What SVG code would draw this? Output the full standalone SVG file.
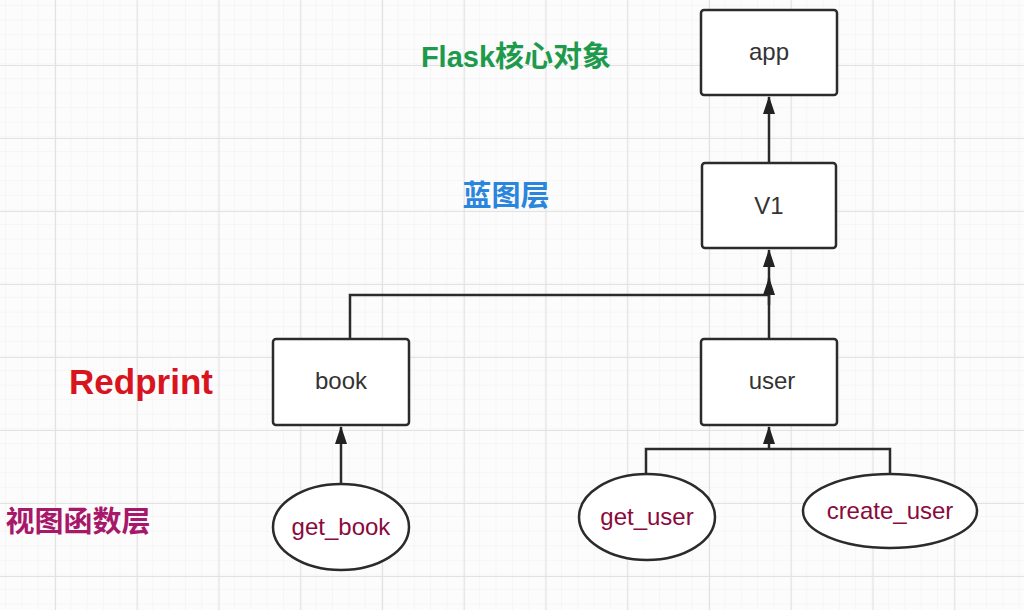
<svg xmlns="http://www.w3.org/2000/svg" width="1024" height="610" viewBox="0 0 1024 610">
<defs>
<pattern id="minor" x="6" y="6" width="16.35" height="14.6" patternUnits="userSpaceOnUse">
<path d="M16.35 0V14.6M0 14.6H16.35" fill="none" stroke="#efefef" stroke-width="1"/>
</pattern>
<pattern id="major" x="55" y="65" width="81.75" height="73" patternUnits="userSpaceOnUse">
<path d="M0.5 0V73M0 0.5H81.75" fill="none" stroke="#e2e2e2" stroke-width="1.2"/>
</pattern>
<marker id="arr" markerWidth="18" markerHeight="12" refX="17" refY="6" orient="auto" markerUnits="userSpaceOnUse" viewBox="0 0 18 12">
<path d="M0 0L18 6L0 12Z" fill="#222"/>
</marker>
<style>
.box{fill:#fff;stroke:#2b2b2b;stroke-width:2.5}
.ell{fill:#fff;stroke:#2b2b2b;stroke-width:2.5}
.lbl{font-family:"Liberation Sans",Arial,sans-serif;font-size:24px;fill:#333;text-anchor:middle}
.fn{font-family:"Liberation Sans",Arial,sans-serif;font-size:24px;fill:#8a0a3c;text-anchor:middle}
.cn{font-family:"Liberation Sans","Noto Sans CJK SC",sans-serif;font-weight:bold}
.conn{fill:none;stroke:#2b2b2b;stroke-width:2.5}
</style>
</defs>
<rect width="1024" height="610" fill="#fcfcfc"/>
<rect width="1024" height="610" fill="url(#minor)"/>
<rect width="1024" height="610" fill="url(#major)"/>

<text class="cn" x="516" y="67" font-size="29" fill="#1e9a4c" text-anchor="middle">Flask核心对象</text>
<text class="cn" x="506" y="206" font-size="29" fill="#2a86dc" text-anchor="middle">蓝图层</text>
<text class="cn" x="141" y="394" font-size="35" fill="#d8141e" text-anchor="middle">Redprint</text>
<text class="cn" x="78" y="532" font-size="29" fill="#a8186a" text-anchor="middle">视图函数层</text>

<g id="connectors">
<path class="conn" d="M769 163V97" marker-end="url(#arr)"/>
<path class="conn" d="M769 339V250" marker-end="url(#arr)"/>
<path class="conn" d="M350 339V295H769" />
<path class="conn" d="M769 305V278" marker-end="url(#arr)"/>
<path class="conn" d="M341 484V427" marker-end="url(#arr)"/>
<path class="conn" d="M646 476V449H890V475"/>
<path class="conn" d="M769 449V427" marker-end="url(#arr)"/>
</g>

<g id="app"><rect class="box" x="701" y="10" width="136" height="85" rx="3"/><text class="lbl" x="769" y="60">app</text></g>
<g id="v1"><rect class="box" x="702" y="163" width="134" height="85" rx="3"/><text class="lbl" x="769" y="214">V1</text></g>
<g id="book"><rect class="box" x="273" y="339" width="136" height="86" rx="3"/><text class="lbl" x="341" y="389">book</text></g>
<g id="user"><rect class="box" x="701" y="339" width="136" height="86" rx="3"/><text class="lbl" x="772" y="389">user</text></g>
<g id="get_book"><ellipse class="ell" cx="341" cy="527" rx="68" ry="43"/><text class="fn" x="341" y="535">get_book</text></g>
<g id="get_user"><ellipse class="ell" cx="647" cy="517" rx="68" ry="43"/><text class="fn" x="647" y="525">get_user</text></g>
<g id="create_user"><ellipse class="ell" cx="890" cy="511" rx="87" ry="37"/><text class="fn" x="890" y="519">create_user</text></g>
</svg>
